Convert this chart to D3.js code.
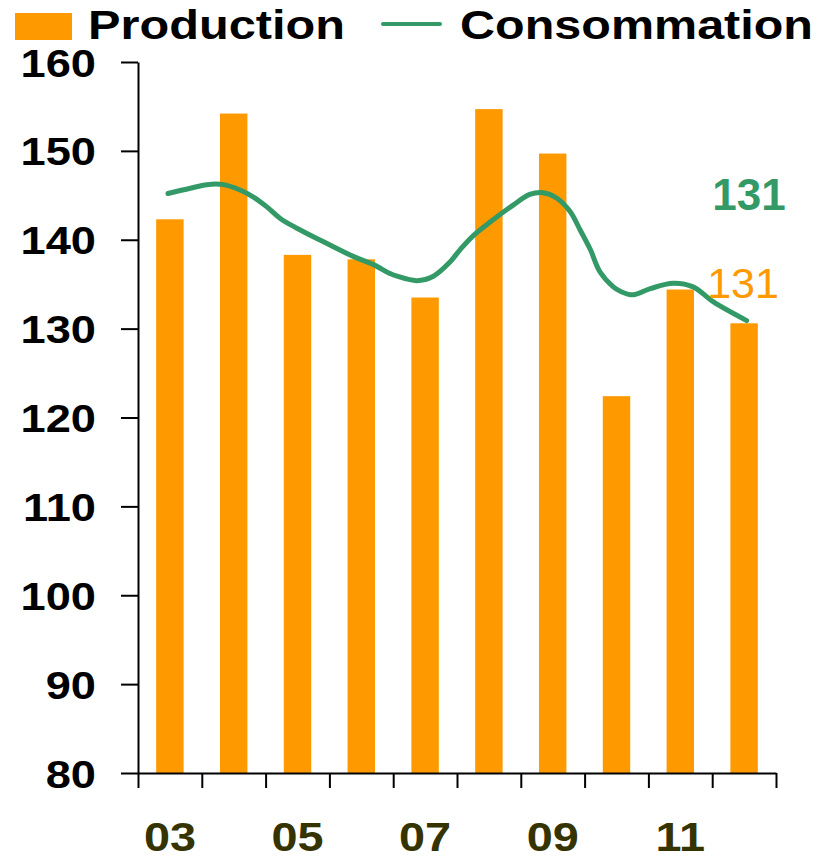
<!DOCTYPE html>
<meta charset="utf-8">
<style>
body { margin: 0; background: #fff; }
svg text { font-family: "Liberation Sans", Arial, sans-serif; }
</style>
<svg class="chart" width="821" height="859"></svg>
<script src="https://d3js.org/d3.v7.min.js"></script>
<script>

// annual production (bars)
var years = ["03", "04", "05", "06", "07", "08", "09", "10", "11", "12"];
var production = [142.3, 154.2, 138.3, 137.8, 133.5, 154.7, 149.7, 122.4, 134.4, 130.6];
var labelYears = ["03", "05", "07", "09", "11"];

// consumption (smoothed line), time as fractional year
var consoT = [2003.47, 2003.82, 2004.08, 2004.34, 2004.6, 2004.81, 2005.02, 2005.23, 2005.49,
  2005.9, 2006.38, 2006.69, 2006.95, 2007.06, 2007.37, 2007.63, 2007.89, 2008.05, 2008.26,
  2008.52, 2008.88, 2009.14, 2009.35, 2009.56, 2009.77, 2009.93, 2010.09, 2010.24, 2010.45,
  2010.56, 2010.76, 2011.03, 2011.39, 2011.7, 2012.02, 2012.54];
var consoV = [145.2, 145.8, 146.2, 146.2, 145.6, 144.8, 143.7, 142.4, 141.3,
  139.8, 138.1, 137.2, 136.2, 135.9, 135.4, 135.9, 137.5, 138.9, 140.5,
  142.0, 143.9, 145.1, 145.3, 144.7, 143.2, 141.1, 138.9, 136.4, 134.7,
  134.2, 133.8, 134.5, 135.1, 134.7, 133.0, 130.9];

var yTicks = [80, 90, 100, 110, 120, 130, 140, 150, 160];

var orange = "#ff9900", green = "#339966";

var svg = d3.select(".chart");

var x = d3.scaleBand()
    .domain(years)
    .range([138, 776])
    .paddingInner(0.57)
    .paddingOuter(0.285);

var xt = d3.scaleLinear().domain([2003, 2013]).range([138, 776]);

var y = d3.scaleLinear().domain([80, 160]).range([773, 62]);

// bars
svg.append("g").selectAll("rect")
    .data(production)
  .enter().append("rect")
    .attr("x", function(d, i) { return x(years[i]); })
    .attr("y", function(d) { return y(d); })
    .attr("width", x.bandwidth())
    .attr("height", function(d) { return y(80) - y(d); })
    .attr("fill", orange);

// y axis
var yAxis = svg.append("g")
    .attr("transform", "translate(138,0)")
    .call(d3.axisLeft(y).tickValues(yTicks).tickSize(17).tickSizeOuter(0).tickFormat(""));
yAxis.selectAll("path, line").attr("stroke", "#000").attr("stroke-width", 2);

yAxis.selectAll(".tick").append("text")
    .attr("transform", "translate(-42,14) scale(1.19,1.03)")
    .attr("text-anchor", "end")
    .attr("fill", "#000")
    .style("font-size", "38px")
    .style("font-weight", "bold")
    .text(function(d) { return d; });

// x axis (ticks at year boundaries)
var xAxis = svg.append("g")
    .attr("transform", "translate(0,773)")
    .call(d3.axisBottom(xt).tickValues(d3.range(2003, 2014)).tickSize(15).tickSizeOuter(0).tickFormat(""));
xAxis.selectAll("path, line").attr("stroke", "#000").attr("stroke-width", 2);

svg.append("g").selectAll("text")
    .data(labelYears)
  .enter().append("text")
    .attr("transform", function(d) {
      return "translate(" + (x(d) + x.bandwidth() / 2) + ",851) scale(1.17,1.02)";
    })
    .attr("text-anchor", "middle")
    .attr("fill", "#353300")
    .style("font-size", "40px")
    .style("font-weight", "bold")
    .text(function(d) { return d; });

// consumption line
var line = d3.line()
    .x(function(d, i) { return xt(consoT[i]); })
    .y(function(d) { return y(d); })
    .curve(d3.curveCatmullRom);

svg.append("path")
    .datum(consoV)
    .attr("d", line)
    .attr("fill", "none")
    .attr("stroke", green)
    .attr("stroke-width", 5)
    .attr("stroke-linecap", "round");

// end labels
svg.append("text")
    .attr("x", 749).attr("y", 210)
    .attr("text-anchor", "middle")
    .attr("fill", green)
    .style("font-size", "44px")
    .style("font-weight", "bold")
    .text(Math.round(consoV[consoV.length - 1]));

svg.append("text")
    .attr("x", 743).attr("y", 298)
    .attr("text-anchor", "middle")
    .attr("fill", orange)
    .style("font-size", "43px")
    .text(Math.round(production[production.length - 1]));

// legend
svg.append("rect")
    .attr("x", 15).attr("y", 13)
    .attr("width", 57).attr("height", 27)
    .attr("fill", orange);
svg.append("text")
    .attr("x", 88).attr("y", 39)
    .attr("textLength", 257).attr("lengthAdjust", "spacingAndGlyphs")
    .style("font-size", "41px").style("font-weight", "bold")
    .text("Production");

svg.append("line")
    .attr("x1", 383).attr("x2", 440)
    .attr("y1", 24).attr("y2", 24)
    .attr("stroke", green).attr("stroke-width", 4)
    .attr("stroke-linecap", "round");
svg.append("text")
    .attr("x", 460).attr("y", 39)
    .attr("textLength", 353).attr("lengthAdjust", "spacingAndGlyphs")
    .style("font-size", "41px").style("font-weight", "bold")
    .text("Consommation");

</script>
